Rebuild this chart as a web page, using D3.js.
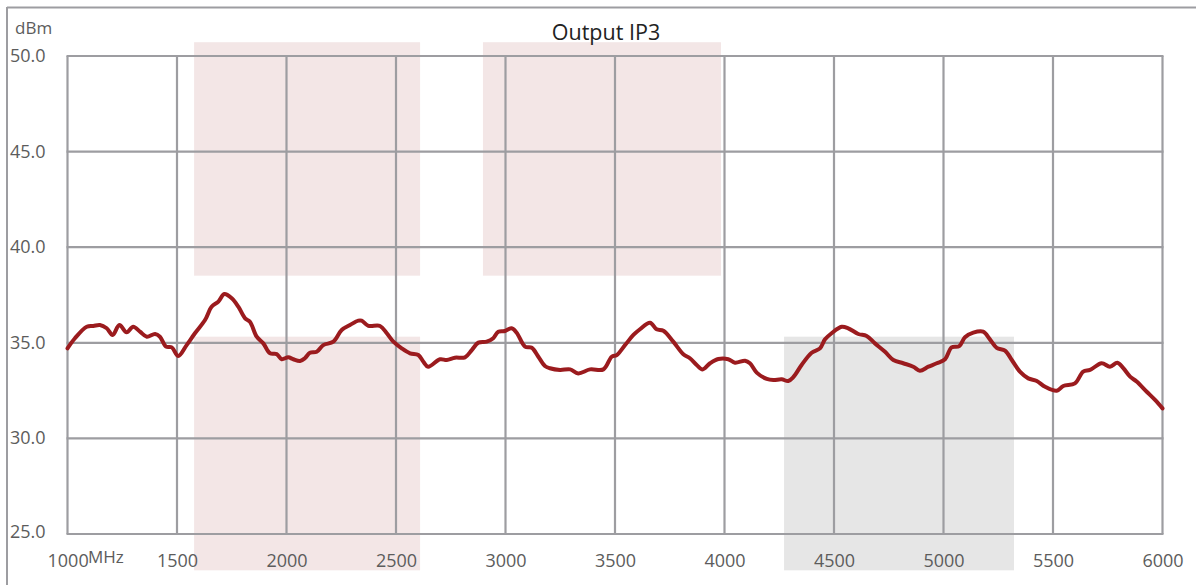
<!DOCTYPE html>
<html><head><meta charset="utf-8">
<script src="https://cdn.jsdelivr.net/npm/d3@7"></script>
<style>body{margin:0;background:#fff}svg{display:block}</style>
</head><body>
<svg id="c" width="1196" height="585"></svg>
<script>
const freqMHz = [1000,1034,1088,1118,1148,1179,1206,1237,1270,1300,1331,1362,1400,1422,1450,1476,1506,1544,1582,1628,1658,1689,1716,1750,1780,1811,1833,1864,1894,1925,1955,1978,2008,2031,2062,2084,2107,2138,2168,2214,2252,2290,2328,2343,2374,2427,2458,2488,2526,2564,2602,2625,2647,2701,2732,2769,2815,2846,2876,2914,2944,2967,2998,3028,3051,3089,3120,3150,3180,3203,3249,3295,3332,3386,3447,3485,3508,3546,3584,3614,3660,3690,3721,3766,3812,3842,3873,3900,3934,3972,4017,4048,4094,4116,4147,4193,4223,4261,4291,4314,4352,4398,4436,4459,4489,4535,4565,4611,4649,4687,4733,4771,4816,4862,4892,4931,4969,5007,5037,5072,5098,5136,5181,5212,5243,5281,5312,5349,5387,5426,5464,5517,5547,5600,5638,5669,5722,5760,5794,5821,5852,5882,5928,5966,6000];
const ip3dBm = [34.71,35.24,35.84,35.88,35.93,35.76,35.41,35.93,35.55,35.84,35.58,35.32,35.46,35.32,34.80,34.76,34.31,34.88,35.50,36.19,36.89,37.15,37.55,37.33,36.89,36.28,36.10,35.32,34.97,34.45,34.41,34.14,34.24,34.14,34.05,34.19,34.48,34.53,34.88,35.06,35.67,35.93,36.16,36.16,35.89,35.88,35.50,35.06,34.71,34.45,34.36,34.01,33.75,34.14,34.10,34.22,34.24,34.62,35.01,35.06,35.24,35.58,35.62,35.76,35.53,34.80,34.74,34.27,33.79,33.67,33.58,33.61,33.40,33.61,33.61,34.27,34.36,34.88,35.41,35.71,36.05,35.71,35.63,35.06,34.40,34.19,33.84,33.61,33.93,34.15,34.14,33.96,34.06,33.93,33.44,33.11,33.05,33.09,33.00,33.20,33.84,34.48,34.71,35.18,35.50,35.84,35.76,35.46,35.36,34.97,34.53,34.10,33.93,33.75,33.54,33.75,33.93,34.14,34.76,34.83,35.29,35.53,35.58,35.18,34.74,34.59,34.10,33.49,33.14,33.00,32.70,32.49,32.74,32.88,33.49,33.58,33.93,33.75,33.96,33.67,33.23,32.97,32.44,32.01,31.57];
const xTicks = [1000,1500,2000,2500,3000,3500,4000,4500,5000,5500,6000];
const xTickLabels = ["1000","1500","2000","2500","3000","3500","4000","4500","5000","5500","6000"];
const yTicks = [25,30,35,40,45,50];
const yTickLabels = ["25.0","30.0","35.0","40.0","45.0","50.0"];
// shaded bands: [fromMHz, toMHz, fromdBm, todBm]
const bandStart = [1578,1578,2897,4272];
const bandEnd   = [2610,2610,3984,5322];
const bandLow   = [38.51,23.1,38.51,23.1];
const bandHigh  = [50.72,35.32,50.72,35.32];
const bandKind  = ["pink","pink","pink","gray"];
const title = "Output IP3";
const yUnit = "dBm";
const xUnit = "MHz";

const svg = d3.select("#c");
const L=67.5,R=1162.5,T=56,B=534;
const x = d3.scaleLinear().domain([1000,6000]).range([L,R]);
const y = d3.scaleLinear().domain([25,50]).range([B,T]);
const gridC="#9d9da1";
const font="'Open Sans', sans-serif";
const txtC="#5c5c5c";

// outer frame (top + left)
svg.append("line").attr("x1",7).attr("x2",1196).attr("y1",7.5).attr("y2",7.5).attr("stroke",gridC).attr("stroke-width",2);
svg.append("line").attr("x1",7).attr("x2",7).attr("y1",7).attr("y2",585).attr("stroke",gridC).attr("stroke-width",2);

// bands
svg.append("g").selectAll("rect").data(bandStart).join("rect")
  .attr("x",(d,i)=>x(d)).attr("width",(d,i)=>x(bandEnd[i])-x(d))
  .attr("y",(d,i)=>y(bandHigh[i])).attr("height",(d,i)=>y(bandLow[i])-y(bandHigh[i]))
  .attr("fill",(d,i)=>bandKind[i]==="pink"?"#f3e6e6":"#e6e6e6");

// grid
const g = svg.append("g");
g.selectAll("line.v").data(xTicks).join("line").attr("class","v")
  .attr("x1",d=>x(d)).attr("x2",d=>x(d)).attr("y1",T).attr("y2",B)
  .attr("stroke",gridC).attr("stroke-width",2.2);
g.selectAll("line.h").data(yTicks).join("line").attr("class","h")
  .attr("y1",d=>y(d)).attr("y2",d=>y(d)).attr("x1",L-1).attr("x2",R+1)
  .attr("stroke",gridC).attr("stroke-width",2.2);

// axes labels via d3 axis (no lines)
const xa = svg.append("g").attr("transform",`translate(0,${B})`)
  .call(d3.axisBottom(x).tickValues(xTicks).tickFormat((d,i)=>xTickLabels[i]).tickSize(0).tickPadding(20));
xa.select(".domain").remove();
xa.selectAll("text").attr("font-family",font).attr("font-size",18).attr("fill",txtC);
xa.selectAll(".tick").filter(d=>d===1000).select("text").attr("text-anchor","start").attr("dx",-20.5);
svg.append("text").attr("x",88).attr("y",563).attr("font-family",font).attr("font-size",17).attr("fill",txtC).text(xUnit);

const ya = svg.append("g").attr("transform",`translate(10,0)`)
  .call(d3.axisLeft(y).tickValues(yTicks).tickFormat((d,i)=>yTickLabels[i]).tickSize(0).tickPadding(0));
ya.select(".domain").remove();
ya.selectAll("text").attr("text-anchor","start").attr("font-family",font).attr("font-size",18).attr("fill",txtC).attr("dy","0.3em");
ya.selectAll(".tick").filter(d=>d===25).select("text").attr("dy","0.2em");
svg.append("text").attr("x",15).attr("y",34).attr("font-family",font).attr("font-size",17).attr("fill",txtC).text(yUnit);

// title
svg.append("text").attr("x",606).attr("y",40).attr("text-anchor","middle").attr("font-family",font).attr("font-size",21.5).attr("fill","#222").text(title);

// curve
const line = d3.line().x((d,i)=>x(freqMHz[i])).y(d=>y(d)).curve(d3.curveCatmullRom.alpha(0.5));
svg.append("path").datum(ip3dBm).attr("d",line).attr("fill","none")
  .attr("stroke","#9b1b1e").attr("stroke-width",4).attr("stroke-linejoin","round").attr("stroke-linecap","round");
</script>
</body></html>
